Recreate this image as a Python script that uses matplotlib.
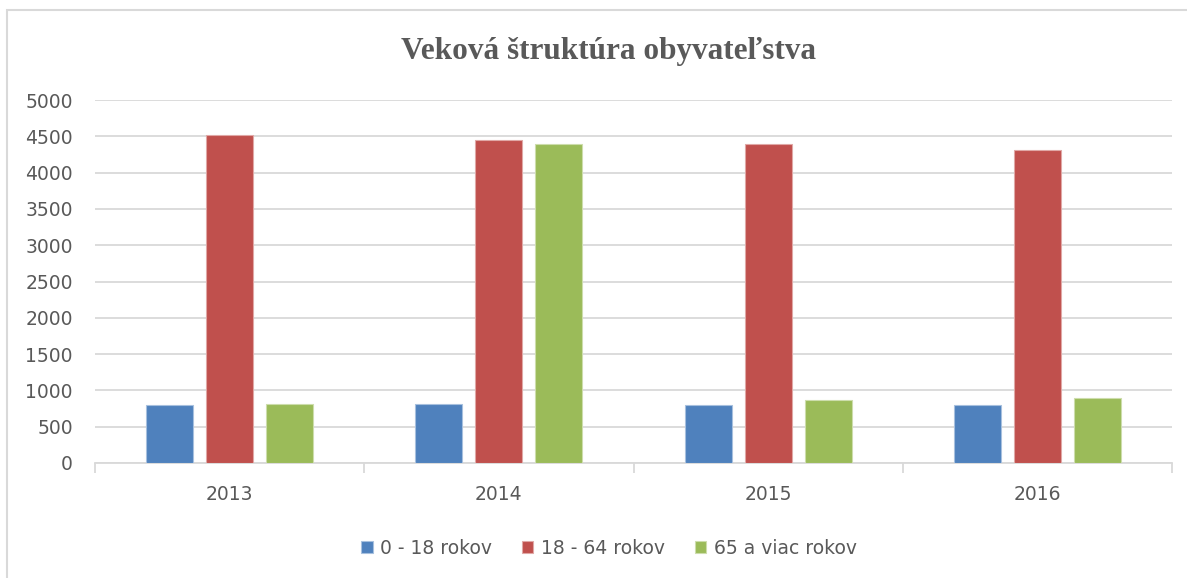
import numpy as np
import matplotlib.pyplot as plt
from matplotlib.patches import Rectangle

years = ["2013", "2014", "2015", "2016"]
series = ["0 - 18 rokov", "18 - 64 rokov", "65 a viac rokov"]
young = [795, 810, 800, 800]
adult = [4515, 4450, 4395, 4310]
senior = [815, 4395, 865, 890]

colors = ["#4F81BD", "#C0504D", "#9BBB59"]
edges = ["#A7C0DE", "#E0A8A6", "#CDDDAC"]
txt = "#595959"
grid = "#D9D9D9"

fig = plt.figure(figsize=(11.87, 5.78), dpi=100)
ax = fig.add_axes([95 / 1187, 1 - 463 / 578, (1172 - 95) / 1187, 363 / 578])

x = np.arange(len(years))
w = 0.175
off = 0.223
for i, (vals, name) in enumerate(zip([young, adult, senior], series)):
    ax.bar(x + (i - 1) * off, vals, width=w, color=colors[i],
           edgecolor=edges[i], linewidth=0.8, label=name, zorder=3)

ax.set_xlim(-0.5, len(years) - 0.5)
ax.set_ylim(0, 5000)
ax.set_yticks(np.arange(0, 5001, 500))
ax.yaxis.grid(True, color=grid, linewidth=1.3, zorder=0)
ax.tick_params(axis="y", length=0, pad=16, labelsize=13.5, labelcolor=txt)

# category separators as major ticks, labels on minor ticks
ax.set_xticks(np.arange(-0.5, len(years), 1.0))
ax.set_xticklabels([])
ax.tick_params(axis="x", which="major", length=7, color=grid, width=1.3)
ax.set_xticks(x, minor=True)
ax.set_xticklabels(years, minor=True)
ax.tick_params(axis="x", which="minor", length=0, pad=16, labelsize=13.5, labelcolor=txt)

for s in ["top", "right", "left"]:
    ax.spines[s].set_visible(False)
ax.spines["bottom"].set_color(grid)
ax.spines["bottom"].set_linewidth(1.3)

fig.text(0.513, 1 - 51 / 578, "Veková štruktúra obyvateľstva", ha="center", va="center",
         fontsize=22.5, fontweight="bold", color=txt, family="Liberation Serif")

fig.legend(loc="center", bbox_to_anchor=(0.513, 1 - 548 / 578), ncol=3, frameon=False,
           fontsize=13.5, labelcolor=txt, handlelength=0.6, handleheight=0.6,
           handletextpad=0.4, columnspacing=1.6)

fig.patches.append(Rectangle((7 / 1187, -0.05), 1.1, 1.05 - 10 / 578, transform=fig.transFigure,
                             fill=False, edgecolor=grid, linewidth=1.5))

fig.savefig("out.png", dpi=100, facecolor="white")
